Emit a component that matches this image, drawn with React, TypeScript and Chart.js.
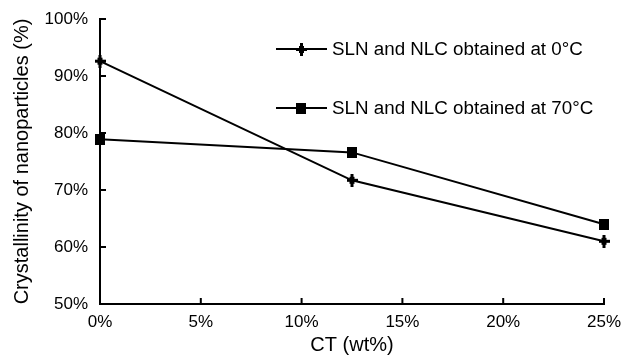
import React, { useEffect, useRef } from "react";
import { Chart, registerables } from "chart.js";
Chart.register(...registerables);

const ctValues = [0, 12.5, 25];
const sln0C = [92.6, 71.7, 61.0];
const sln70C = [78.9, 76.6, 64.0];
const seriesLabels = ["SLN and NLC obtained at 0°C", "SLN and NLC obtained at 70°C"];
const xTitle = "CT (wt%)";
const yTitle = "Crystallinity of nanoparticles (%)";

const FONT = "'Liberation Sans', Arial, Helvetica, sans-serif";

function makePlus() {
  const c = document.createElement("canvas");
  c.width = 11;
  c.height = 13;
  const g = c.getContext("2d")!;
  g.fillStyle = "#000";
  g.fillRect(4, 0, 3, 13);
  g.fillRect(0, 5, 11, 3);
  g.fillRect(3, 3, 5, 7);
  return c;
}
function makeSquare() {
  const c = document.createElement("canvas");
  c.width = 10;
  c.height = 11;
  const g = c.getContext("2d")!;
  g.fillStyle = "#000";
  g.fillRect(0, 0, 10, 11);
  return c;
}

export default function App() {
  const ref = useRef<HTMLCanvasElement>(null);
  useEffect(() => {
    const plus = makePlus();
    const square = makeSquare();
    const markers = [plus, square];

    const innerTicks = {
      id: "innerTicks",
      afterDraw(chart: any) {
        const ctx = chart.ctx;
        const xs = chart.scales.x;
        const ys = chart.scales.y;
        const a = chart.chartArea;
        ctx.save();
        ctx.strokeStyle = "#000";
        ctx.lineWidth = 2;
        ctx.beginPath();
        xs.ticks.forEach((t: any) => {
          const px = xs.getPixelForValue(t.value);
          ctx.moveTo(px, a.bottom);
          ctx.lineTo(px, a.bottom - 6);
        });
        ys.ticks.forEach((t: any) => {
          const py = ys.getPixelForValue(t.value);
          ctx.moveTo(a.left, py);
          ctx.lineTo(a.left + 6, py);
        });
        ctx.stroke();
        ctx.restore();
      },
    };

    const legendPlugin = {
      id: "insideLegend",
      afterDraw(chart: any) {
        const ctx = chart.ctx;
        const rows = [49, 108];
        ctx.save();
        ctx.font = `18.8px ${FONT}`;
        ctx.fillStyle = "#000";
        ctx.textBaseline = "middle";
        seriesLabels.forEach((lab, i) => {
          const y = rows[i];
          ctx.strokeStyle = "#000";
          ctx.lineWidth = 2;
          ctx.beginPath();
          ctx.moveTo(276, y);
          ctx.lineTo(327, y);
          ctx.stroke();
          const m = markers[i];
          ctx.drawImage(m, Math.round(301 - m.width / 2), Math.round(y - m.height / 2));
          ctx.fillText(lab, 332, y + 1);
        });
        ctx.restore();
      },
    };

    const chart = new Chart(ref.current!, {
      type: "line",
      data: {
        datasets: [
          {
            label: seriesLabels[0],
            data: ctValues.map((x, i) => ({ x, y: sln0C[i] })),
            borderColor: "#000",
            borderWidth: 2,
            pointStyle: plus as any,
            clip: false as any,
          },
          {
            label: seriesLabels[1],
            data: ctValues.map((x, i) => ({ x, y: sln70C[i] })),
            borderColor: "#000",
            borderWidth: 2,
            pointStyle: square as any,
            clip: false as any,
          },
        ],
      },
      options: {
        animation: false,
        responsive: false,
        events: [],
        layout: { padding: { top: 19, right: 21, left: 0, bottom: 0 } },
        plugins: { legend: { display: false }, tooltip: { enabled: false } },
        scales: {
          x: {
            type: "linear",
            min: 0,
            max: 25,
            grid: { display: false },
            border: { display: true, color: "#000", width: 2 },
            ticks: {
              stepSize: 5,
              color: "#000",
              font: { family: FONT, size: 17 },
              padding: 0,
              maxRotation: 0,
              callback: (v: any) => v + "%",
            },
            title: {
              display: true,
              text: xTitle,
              color: "#000",
              font: { family: FONT, size: 20 },
              padding: { top: 0, bottom: 0 },
            },
            afterFit: (s: any) => {
              s.height = 53;
            },
          },
          y: {
            min: 50,
            max: 100,
            grid: { display: false },
            border: { display: true, color: "#000", width: 2 },
            ticks: {
              stepSize: 10,
              color: "#000",
              font: { family: FONT, size: 17 },
              padding: 4,
              callback: (v: any) => v + "%",
            },
            title: {
              display: true,
              text: yTitle,
              color: "#000",
              font: { family: FONT, size: 20 },
              padding: { top: 10, bottom: 0 },
            },
            afterFit: (s: any) => {
              s.width = 100;
            },
          },
        },
      },
      plugins: [innerTicks, legendPlugin],
    });
    return () => chart.destroy();
  }, []);

  return (
    <div style={{ position: "fixed", left: 0, top: 0, width: 625, height: 357, background: "#fff" }}>
      <canvas ref={ref} width={625} height={357} style={{ display: "block" }} />
    </div>
  );
}
